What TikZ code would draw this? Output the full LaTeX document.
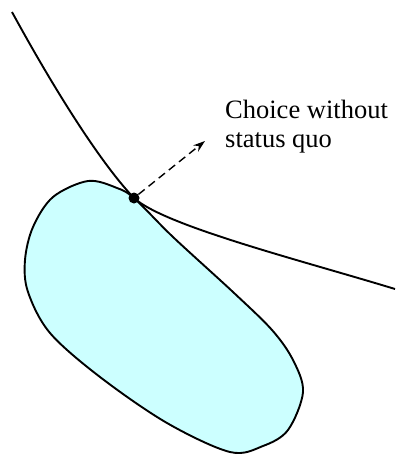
\documentclass[tikz,border=0pt]{standalone}
\usepackage{fontspec}
\setmainfont{Liberation Serif}
\usetikzlibrary{arrows.meta}
\definecolor{SetFill}{HTML}{CCFFFF}

\begin{document}
\begin{tikzpicture}[
	x=1pt, y=-1pt, % pixel-like units, y pointing down
	% Style for the indifference curve
	curve/.style={
		draw=black,
		line width=1.9pt
	},
	% Style for the choice set
	choiceset/.style={
		draw=black,
		fill=SetFill,
		line width=1.9pt
	},
	% Style for the chosen point
	choicedot/.style={
		circle,
		fill=black,
		inner sep=0pt,
		minimum size=11pt
	},
	% Style for the dashed arrow
	shift arrow/.style={
		dashed,
		dash pattern=on 8pt off 5pt,
		line width=1.4pt,
		-{Stealth[length=12pt, width=8pt, inset=4pt]}
	},
	% Style for the label
	label text/.style={
		align=left,
		inner sep=0pt,
		font=\fontsize{26.5}{29}\selectfont
	}
	]
	\useasboundingbox (0,0) rectangle (397,455);
	
	% 1. The choice set
	\draw[choiceset] plot[smooth cycle, tension=0.55] coordinates {
		(135,199) (173,237) (233,292) (272,330) (293,360) (303,392)
		(288,430) (263,446) (230,452) (167,423) (100,377) (50,333)
		(28,292) (25,260) (33,227) (53,197) (88,181) (117,188)};
	
	% 2. The curve touching it
	\coordinate (top) at (12,12);
	\coordinate (end) at (395,289);
	\node[choicedot] (T) at (134,198) {};
	\draw[curve] (top) .. controls (60,100) and (105,168) .. (T.center)
		.. controls (165,226) and (300,260) .. (end);
	
	% 3. Arrow and label
	\node[label text, anchor=north west] (lbl) at (225,100) {Choice without\\status quo};
	\coordinate (tip) at (205,141);
	\draw[shift arrow] (T) -- (tip);
	
\end{tikzpicture}
\end{document}
